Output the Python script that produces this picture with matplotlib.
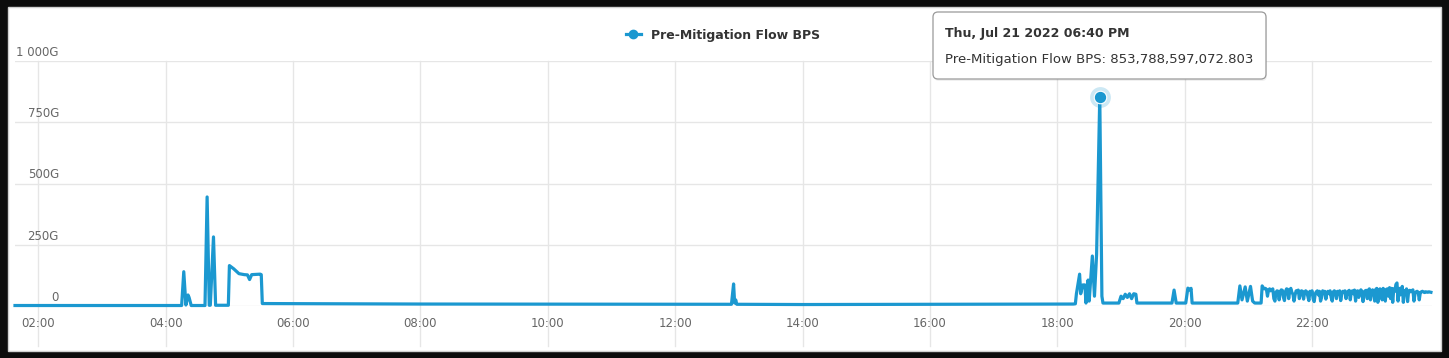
import matplotlib

matplotlib.use("Agg")
import matplotlib.dates as mdates  # noqa: E402
import matplotlib.pyplot as plt  # noqa: E402
import matplotlib.transforms as mtransforms  # noqa: E402
import pandas as pd  # noqa: E402
from matplotlib.lines import Line2D  # noqa: E402
from matplotlib.patches import FancyBboxPatch, Rectangle  # noqa: E402

DAY = "2022-07-21"
SERIES_NAME = "Pre-Mitigation Flow BPS"

# readings in G (1e9 bits/s), breakpoints
times = [
    "01:38", "04:15", "04:17", "04:19", "04:21", "04:22", "04:24", "04:37",
    "04:39", "04:41", "04:42", "04:45", "04:47", "04:59", "05:00", "05:04",
    "05:09", "05:14", "05:17", "05:19", "05:21", "05:29", "05:30", "05:31",
    "08:00", "12:00", "12:53", "12:55", "12:56", "12:57", "12:58", "14:00",
    "18:15", "18:17", "18:18", "18:21", "18:22", "18:24", "18:26", "18:27",
    "18:29", "18:30", "18:33", "18:35", "18:37", "18:40", "18:42", "18:43",
    "18:58", "19:00", "19:02", "19:04", "19:06", "19:08", "19:10", "19:12",
    "19:14", "19:15", "19:48", "19:50", "19:52", "20:01", "20:03", "20:05",
    "20:06", "20:07", "20:50", "20:52", "20:54", "20:57", "20:59", "21:02",
    "21:04", "21:06", "21:12",
]
values_g = [
    2, 2, 140, 4, 45, 35, 2, 2,
    445, 3, 3, 282, 3, 3, 165, 152,
    132, 128, 127, 108, 128, 130, 128, 10,
    8, 7, 7, 90, 12, 25, 7, 6,
    8, 9, 50, 130, 50, 86, 86, 12,
    106, 20, 204, 40, 210, 853.788597072803, 40, 12,
    12, 40, 30, 48, 35, 50, 30, 50,
    48, 12, 12, 65, 12, 12, 73, 65,
    72, 12, 12, 82, 25, 78, 20, 80,
    20, 12, 12,
]

# noisy tail, one reading per minute from 21:13
noise_start = "21:13"
noise_values_g = [
    82, 75, 70, 72, 68, 40, 65, 70, 62, 66,
    70, 30, 20, 55, 62, 60, 25, 58, 66, 64,
    35, 22, 60, 70, 68, 30, 62, 72, 55, 48,
    20, 45, 62, 58, 65, 30, 50, 62, 60, 28,
    55, 62, 58, 40, 22, 60, 55, 62, 30, 18,
    50, 58, 62, 45, 60, 20, 35, 62, 55, 60,
    28, 55, 60, 50, 62, 35, 20, 58, 62, 56,
    30, 60, 55, 62, 22, 48, 60, 58, 62, 30,
    55, 60, 64, 25, 58, 62, 50, 65, 20, 60,
    62, 35, 58, 66, 60, 18, 55, 62, 64, 30,
    65, 70, 25, 60, 66, 58, 20, 68, 72, 15,
    60, 70, 66, 25, 72, 62, 20, 68, 70, 40,
    75, 30, 72, 15, 70, 60, 88, 94, 20, 72,
    45, 68, 80, 15, 62, 55, 70, 18, 60, 64,
    58, 62, 66, 20, 50, 58, 60, 56, 25, 55,
    58, 60, 57, 55, 58, 57, 56, 58, 57, 56,
]

peak_time = "18:40"
peak_bps = 853788597072.803
tooltip_title = "Thu, Jul 21 2022 06:40 PM"

y_ticks = [0, 250, 500, 750, 1000]
y_tick_labels = ["0", "250G", "500G", "750G", "1 000G"]
x_ticks = ["02:00", "04:00", "06:00", "08:00", "10:00", "12:00",
           "14:00", "16:00", "18:00", "20:00", "22:00"]
x_range = ("01:38", "23:53")

BLUE = "#1b98d0"
GRID = "#e6e6e6"
W, H = 1449, 358


def fx(px):
    return px / W


def fy(py):
    return 1 - py / H


t_main = pd.to_datetime([f"{DAY} {h}" for h in times])
t_noise = pd.date_range(f"{DAY} {noise_start}", periods=len(noise_values_g), freq="1min")
t_all = t_main.append(t_noise)
v_all = list(values_g) + list(noise_values_g)

fig = plt.figure(figsize=(W / 100, H / 100), dpi=100, facecolor="#0c0c0c")
panel = Rectangle((fx(8), fy(351)), fx(1441) - fx(8), fy(7) - fy(351),
                  transform=fig.transFigure, facecolor="white",
                  edgecolor="#d0d0d0", lw=1, zorder=-5)
fig.add_artist(panel)

ax = fig.add_axes([fx(15), fy(306), fx(1432) - fx(15), fy(61) - fy(306)])
ax.set_facecolor("white")
for s in ax.spines.values():
    s.set_visible(False)

xt = pd.to_datetime([f"{DAY} {h}" for h in x_ticks])
for t in xt:
    ax.axvline(t, ymin=-0.163, ymax=1, color=GRID, lw=1, clip_on=False, zorder=0)
for v in y_ticks:
    ax.axhline(v, color=GRID, lw=1, zorder=0)

ax.plot(t_all, v_all, color=BLUE, lw=2.3, solid_joinstyle="round",
        clip_on=False, zorder=3)

pk_t = pd.Timestamp(f"{DAY} {peak_time}")
pk_v = peak_bps / 1e9
ax.plot([pk_t], [pk_v], "o", ms=15, color=BLUE, alpha=0.22, mec="none",
        clip_on=False, zorder=4)
ax.plot([pk_t], [pk_v], "o", ms=9, color=BLUE, mec="white", mew=0.8,
        clip_on=False, zorder=5)

ax.set_xlim(pd.Timestamp(f"{DAY} {x_range[0]}"), pd.Timestamp(f"{DAY} {x_range[1]}"))
ax.set_ylim(0, 1000)
ax.set_xticks(xt)
ax.xaxis.set_major_formatter(mdates.DateFormatter("%H:%M"))
ax.set_yticks([])
ax.tick_params(axis="x", length=0, pad=8, labelsize=8.5, labelcolor="#666666")

ytrans = mtransforms.blended_transform_factory(fig.transFigure, ax.transData)
ytrans = mtransforms.offset_copy(ytrans, fig=fig, y=2, units="dots")
for v, lbl in zip(y_ticks, y_tick_labels):
    ax.text(fx(59), v, lbl, transform=ytrans, ha="right", va="bottom",
            fontsize=8.5, color="#666666")

handle = Line2D([], [], color=BLUE, lw=2.3, marker="o", ms=6)
ax.legend([handle], [SERIES_NAME], loc="center", bbox_to_anchor=(fx(723), fy(35)),
          bbox_transform=fig.transFigure, frameon=False,
          prop={"weight": "bold", "size": 9}, labelcolor="#333333",
          handlelength=1.2, handletextpad=0.8)

# tooltip
shadow = FancyBboxPatch((934, H - 81), 333, 67, boxstyle="round,pad=0,rounding_size=5",
                        transform=mtransforms.IdentityTransform(),
                        facecolor="#000000", alpha=0.06, edgecolor="none", zorder=8)
box = FancyBboxPatch((933, H - 79), 333, 67, boxstyle="round,pad=0,rounding_size=5",
                     transform=mtransforms.IdentityTransform(),
                     facecolor="white", edgecolor="#9a9a9a", lw=0.9, zorder=9)
fig.add_artist(shadow)
fig.add_artist(box)
fig.text(fx(945), fy(33), tooltip_title, fontsize=9, weight="bold",
         color="#333333", va="center", zorder=10)
fig.text(fx(945), fy(59), f"{SERIES_NAME}: {peak_bps:,.3f}", fontsize=9.5,
         color="#333333", va="center", zorder=10)

fig.savefig("out.png", dpi=100, facecolor=fig.get_facecolor())
plt.close(fig)
